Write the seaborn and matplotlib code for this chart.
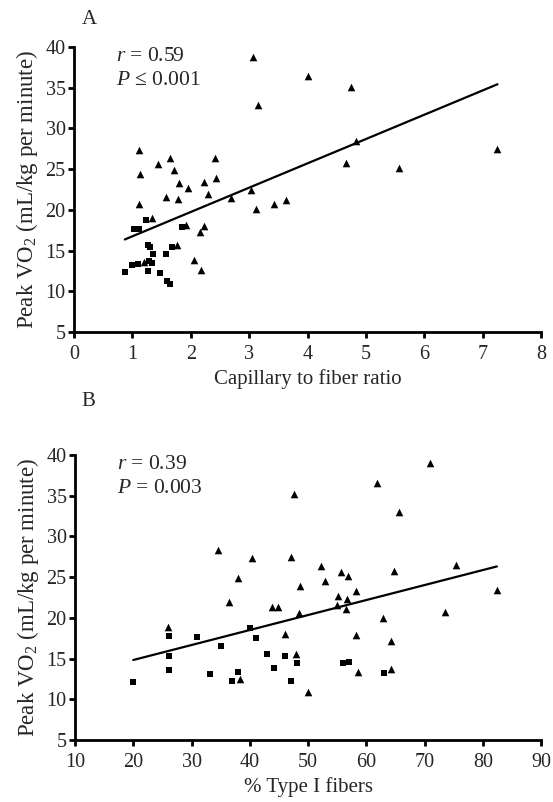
import numpy as np
import pandas as pd
import seaborn as sns
import matplotlib.pyplot as plt

# Panel A: capillary to fiber ratio vs peak VO2
a_sq_x = [1.24, 1.03, 1.12, 1.85, 1.26, 1.30, 1.67, 1.35, 1.57, 0.99, 1.10, 1.29, 1.34, 0.87, 1.26, 1.48, 1.60, 1.64]
a_sq_y = [18.8, 17.6, 17.6, 17.9, 15.7, 15.4, 15.4, 14.6, 14.6, 13.2, 13.3, 13.7, 13.5, 12.35, 12.45, 12.2, 11.3, 10.85]
a_tri_x = [3.07, 4.00, 3.15, 1.11, 1.65, 2.42, 1.43, 1.72, 1.13, 2.43, 1.80, 2.22, 1.95, 2.30, 1.57, 1.78, 2.68,
           3.03, 3.11, 3.43, 3.63, 1.11, 1.34, 1.91, 2.23, 2.15, 1.76, 1.20, 2.06, 2.17, 4.75, 4.83, 4.65, 5.57, 7.25]
a_tri_y = [38.8, 36.4, 32.9, 27.3, 26.4, 26.4, 25.6, 24.9, 24.4, 23.9, 23.25, 23.4, 22.7, 21.9, 21.6, 21.3, 21.4,
           22.4, 20.1, 20.7, 21.2, 20.7, 19.0, 18.1, 18.0, 17.3, 15.7, 13.55, 13.8, 12.6, 35.05, 28.4, 25.7, 25.1, 27.5]

# Panel B: % type I fibers vs peak VO2
b_sq_x = [20.0, 26.1, 26.1, 26.1, 31.0, 35.1, 33.1, 38.0, 37.0, 40.0, 41.1, 43.0, 46.1, 44.1, 48.1, 47.0, 56.0, 57.1, 63.1]
b_sq_y = [12.1, 17.8, 15.3, 13.6, 17.6, 16.6, 13.15, 13.4, 12.3, 18.7, 17.5, 15.6, 15.35, 13.9, 14.4, 12.25, 14.5, 14.55, 13.25]
b_tri_x = [47.5, 34.5, 40.4, 47.1, 37.9, 48.6, 36.4, 43.8, 44.9, 48.4, 26.0, 46.0, 47.9, 38.4, 50.0,
           71.0, 61.9, 65.6, 52.2, 55.7, 56.9, 64.8, 75.3, 52.9, 58.3, 55.2, 56.7, 55.0, 56.5, 82.4, 73.5,
           62.9, 58.2, 64.3, 58.5, 64.3]
b_tri_y = [35.2, 28.3, 27.3, 27.5, 24.9, 23.9, 21.9, 21.3, 21.3, 20.6, 18.85, 18.0, 15.6, 12.45, 10.85,
           39.0, 36.6, 33.0, 26.4, 25.6, 25.1, 25.7, 26.5, 24.5, 23.3, 22.65, 22.3, 21.6, 21.1, 23.4, 20.75,
           20.0, 17.9, 17.2, 13.4, 13.7]

sns.set_style("ticks")
plt.rcParams['font.family'] = ['Liberation Serif', 'DejaVu Serif']
plt.rcParams['mathtext.fontset'] = 'custom'
plt.rcParams['mathtext.rm'] = 'Liberation Serif'
plt.rcParams['mathtext.it'] = 'Liberation Serif:italic'

fig = plt.figure(figsize=(5.53, 8.02), dpi=100)
axA = fig.add_axes([0.1338, 0.586, 0.845, 0.3554])
axB = fig.add_axes([0.1356, 0.0773, 0.843, 0.3554])


def panel(ax, sx, sy, tx, ty, xlim, xticks, xlabel, r_txt, p_txt):
    sq = pd.DataFrame({"x": sx, "y": sy})
    tri = pd.DataFrame({"x": tx, "y": ty})
    both = pd.concat([sq, tri])
    sns.regplot(data=both, x="x", y="y", ax=ax, scatter=False, ci=None,
                color="black", line_kws={"lw": 1.6})
    sns.scatterplot(data=sq, x="x", y="y", ax=ax, marker="s", s=14, color="black", linewidth=0)
    sns.scatterplot(data=tri, x="x", y="y", ax=ax, marker="^", s=30, color="black", linewidth=0)
    ax.set_xlim(*xlim)
    ax.set_ylim(5, 40)
    ax.set_xticks(xticks)
    ax.set_yticks(range(5, 41, 5))
    ax.set_xlabel(xlabel, fontsize=15, labelpad=4)
    ax.set_ylabel("Peak VO$_2$ (mL/kg per minute)", fontsize=16.5, labelpad=4)
    ax.tick_params(labelsize=14.5, width=2, length=4, color="black")
    ax.tick_params(axis="x", pad=5)
    ax.tick_params(axis="y", pad=2)
    for s in ["left", "bottom"]:
        ax.spines[s].set_linewidth(2)
        ax.spines[s].set_color("black")
    sns.despine(ax=ax)
    ax.text(0.09, 0.965, r_txt, transform=ax.transAxes, fontsize=15.5, va="center")
    ax.text(0.09, 0.881, p_txt, transform=ax.transAxes, fontsize=15.5, va="center")


panel(axA, a_sq_x, a_sq_y, a_tri_x, a_tri_y, (0, 8), range(0, 9),
      "Capillary to fiber ratio", "$r$ = 0.59", "$P$ \u2264 0.001")
panel(axB, b_sq_x, b_sq_y, b_tri_x, b_tri_y, (10, 90), range(10, 91, 10),
      "% Type I fibers", "$r$ = 0.39", "$P$ = 0.003")

fig.text(82 / 553, 1 - 19 / 802, "A", fontsize=15, va="center")
fig.text(81 / 553, 1 - 402 / 802, "B", fontsize=15, va="center")

fig.savefig("out.png", dpi=100)
